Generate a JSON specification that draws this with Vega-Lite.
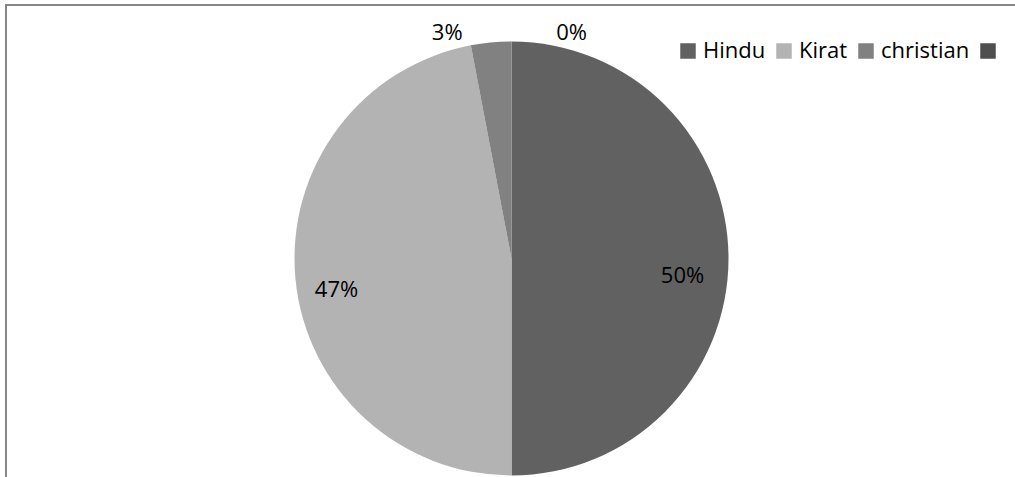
{
  "$schema": "https://vega.github.io/schema/vega-lite/v6.json",
  "width": 1011,
  "height": 474,
  "autosize": {"type": "none"},
  "padding": {"left": 6, "top": 5, "right": -2, "bottom": -2},
  "background": "white",
  "config": {
    "view": {"stroke": "#888888", "strokeWidth": 2},
    "font": "Open Sans"
  },
  "data": {
    "values": [
      {"cat": "Hindu", "v": 0.50, "n": 1},
      {"cat": "Kirat", "v": 0.47, "n": 2},
      {"cat": "christian", "v": 0.03, "n": 3},
      {"cat": " ", "v": 0.00, "n": 4}
    ]
  },
  "layer": [
    {
      "mark": {"type": "point", "opacity": 0},
      "encoding": {
        "x": {"field": "n", "type": "quantitative", "axis": null},
        "y": {"field": "v", "type": "quantitative", "axis": null}
      }
    },
    {
      "mark": {"type": "arc", "outerRadius": 217, "yOffset": 16.5, "stroke": null},
      "encoding": {
        "theta": {"field": "v", "type": "quantitative", "stack": true},
        "order": {"field": "n", "type": "quantitative"},
        "color": {
          "field": "cat",
          "type": "nominal",
          "scale": {
            "domain": ["Hindu", "Kirat", "christian", " "],
            "range": ["#616161", "#b3b3b3", "#818181", "#4f4f4f"]
          },
          "sort": ["Hindu", "Kirat", "christian", " "],
          "legend": {
            "orient": "none",
            "direction": "horizontal",
            "legendX": 671,
            "legendY": 35,
            "title": null,
            "padding": 0,
            "symbolType": "square",
            "symbolSize": 240,
            "symbolStrokeWidth": 0,
            "symbolOpacity": 1,
            "labelFontSize": 22,
            "labelFont": "Open Sans",
            "labelColor": "#000000",
            "labelOffset": 4,
            "columnPadding": 7,
            "labelLimit": 300
          }
        }
      }
    },
    {
      "mark": {"type": "text", "radius": 171, "yOffset": 16.5, "dy": 17, "fontSize": 22, "font": "Open Sans", "color": "#000000"},
      "encoding": {
        "theta": {"field": "v", "type": "quantitative", "stack": true},
        "order": {"field": "n", "type": "quantitative"},
        "text": {"condition": {"test": "datum.cat === 'Hindu'", "field": "v", "type": "quantitative", "format": ".0%"}, "value": ""}
      }
    },
    {
      "mark": {"type": "text", "radius": 175.8, "yOffset": 16.5, "dy": 15, "fontSize": 22, "font": "Open Sans", "color": "#000000"},
      "encoding": {
        "theta": {"field": "v", "type": "quantitative", "stack": true},
        "order": {"field": "n", "type": "quantitative"},
        "text": {"condition": {"test": "datum.cat === 'Kirat'", "field": "v", "type": "quantitative", "format": ".0%"}, "value": ""}
      }
    },
    {
      "mark": {"type": "text", "radius": 226, "yOffset": 16.5, "dy": -1, "dx": -43, "fontSize": 22, "font": "Open Sans", "color": "#000000"},
      "encoding": {
        "theta": {"field": "v", "type": "quantitative", "stack": true},
        "order": {"field": "n", "type": "quantitative"},
        "text": {"condition": {"test": "datum.cat === 'christian'", "field": "v", "type": "quantitative", "format": ".0%"}, "value": ""}
      }
    },
    {
      "mark": {"type": "text", "radius": 226, "yOffset": 16.5, "dy": 0, "dx": 60, "fontSize": 22, "font": "Open Sans", "color": "#000000"},
      "encoding": {
        "theta": {"field": "v", "type": "quantitative", "stack": true},
        "order": {"field": "n", "type": "quantitative"},
        "text": {"condition": {"test": "datum.cat === ' '", "field": "v", "type": "quantitative", "format": ".0%"}, "value": ""}
      }
    }
  ]
}
